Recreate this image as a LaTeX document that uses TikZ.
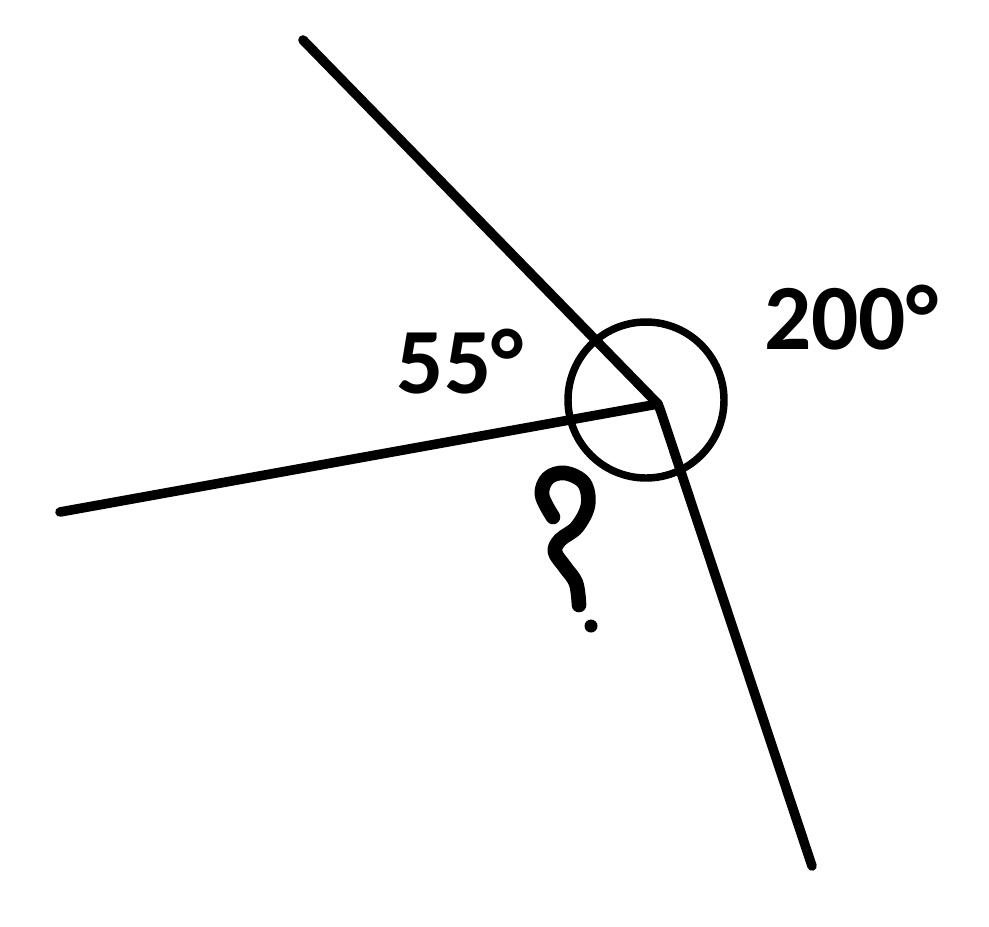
\documentclass[tikz,border=0pt]{standalone}
\usepackage{fontspec}
\setmainfont{Carlito}
\usepackage{tikz}

\begin{document}
\begin{tikzpicture}[x=0.75pt,y=0.75pt,yscale=-1,xscale=1]
\useasboundingbox (0,0) rectangle (989,926);
\tikzset{ray/.style={line width=7.2pt, line cap=round},
	anglab/.style={inner sep=0pt, font={\fontsize{70}{80}\selectfont\bfseries}}}

%Vertex and ray ends
\coordinate (O) at (658,404);
\coordinate (A) at (303,40);
\coordinate (B) at (60,512);
\coordinate (C) at (812,866);

%Straight Lines
\draw [ray] (A) -- (O) ;
\draw [ray] (B) -- (O) ;
\draw [ray, line join=round] (O) -- (661,412) -- (C) ;

%Shape: Circle
\draw [line width=5.6pt] (646,400) circle [radius=78] ;

% Text Node
\node [anglab] (small) at (460,362) {55°};
\node [anglab] (big) at (851,318) {200°};

%Handwritten question mark
\draw [line width=11pt, line cap=round, line join=round] plot [smooth, tension=0.6] coordinates {(553,517) (542,495) (548,478) (565,473) (584,483) (588,505) (577,527) (560,540) (555,552) (565,567) (576,583) (579,605)} ;
\fill (591,626) circle [radius=6.5] ;

\end{tikzpicture}
\end{document}
